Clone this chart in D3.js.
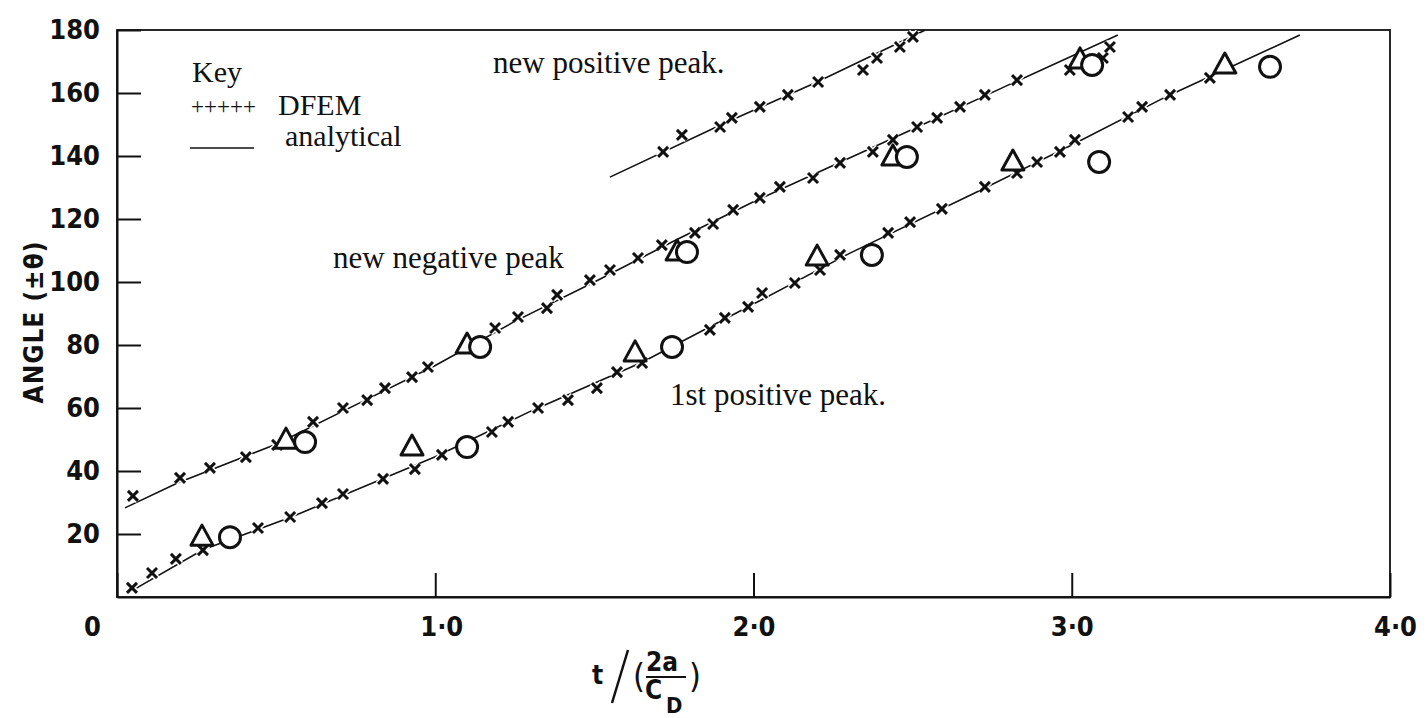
<!DOCTYPE html>
<html>
<head>
<meta charset="utf-8">
<script src="https://cdn.jsdelivr.net/npm/d3@7"></script>
<style>
body { margin: 0; background: #fff; }
svg { display: block; }
</style>
</head>
<body>
<svg id="chart" width="1426" height="718"></svg>
<script>
// tick values
var xTicks = [0, 1, 2, 3, 4];
var yTicks = [20, 40, 60, 80, 100, 120, 140, 160, 180];

// 1st positive peak  [t/(2a/C_D), angle]
var firstPosDFEM = [[0.047,2.9],[0.110,7.6],[0.185,12.1],[0.270,14.9],[0.443,21.9],[0.544,25.4],[0.644,29.8],[0.710,32.7],[0.836,37.5],[0.936,40.6],[1.021,45.1],[1.178,52.4],[1.229,55.6],[1.323,60.0],[1.417,62.5],[1.508,66.3],[1.571,71.4],[1.650,74.3],[1.863,84.8],[1.910,88.6],[1.983,92.1],[2.027,96.5],[2.130,99.7],[2.209,103.8],[2.272,108.6],[2.423,115.6],[2.492,119.0],[2.592,123.2],[2.727,130.2],[2.828,134.6],[2.891,138.1],[2.963,141.3],[3.010,145.1],[3.177,152.4],[3.221,155.6],[3.309,159.4],[3.434,164.8]];
var firstPosTri = [[0.267,19.0],[0.927,47.6],[1.628,77.5],[2.200,107.9],[2.815,138.1],[3.481,168.9]];
var firstPosCirc = [[0.355,19.0],[1.100,47.6],[1.744,79.4],[2.372,108.6],[3.086,138.1],[3.623,168.3]];
var firstPosLine = [[0.035,1.3],[0.27,15],[0.55,25.5],[1.0,44.5],[1.3,59],[1.65,74.5],[2.0,93],[2.3,109],[2.7,128.5],[3.0,143.5],[3.3,159],[3.717,178.4]];

// new negative peak
var newNegDFEM = [[0.050,32.1],[0.198,37.8],[0.292,41.0],[0.405,44.4],[0.503,48.3],[0.616,55.6],[0.710,60.0],[0.786,62.5],[0.842,66.3],[0.927,69.8],[0.977,73.0],[1.188,85.4],[1.260,88.9],[1.351,91.7],[1.383,95.9],[1.486,100.6],[1.549,103.8],[1.637,107.6],[1.712,111.7],[1.816,115.6],[1.873,118.4],[1.936,122.9],[2.020,126.7],[2.083,130.2],[2.187,133.0],[2.272,137.8],[2.375,141.3],[2.438,145.1],[2.514,149.2],[2.577,152.1],[2.649,155.6],[2.727,159.4],[2.828,164.1],[2.994,167.3],[3.098,171.1],[3.120,174.6]];
var newNegTri = [[0.531,49.8],[1.100,80.0],[1.760,109.5],[2.438,139.7],[3.026,170.5]];
var newNegCirc = [[0.591,49.2],[1.141,79.4],[1.791,109.5],[2.482,139.7],[3.064,168.9]];
var newNegLine = [[0.025,28.3],[0.19,36.2],[0.5,48.5],[0.75,61],[1.0,73.5],[1.25,87.5],[1.5,100],[1.75,113],[2.0,125.5],[2.25,137],[2.5,148.5],[2.8,162.5],[3.145,178.4]];

// new positive peak
var newPosDFEM = [[1.716,141.3],[1.775,146.7],[1.895,149.2],[1.932,152.1],[2.020,155.6],[2.108,159.4],[2.203,163.5],[2.344,167.3],[2.388,171.1],[2.460,174.6],[2.501,177.8]];
var newPosLine = [[1.549,133.3],[1.9,150],[2.2,163.5],[2.54,180]];

var svg = d3.select('#chart');
var x = d3.scaleLinear().domain([0, 4]).range([117, 1390]);
var y = d3.scaleLinear().domain([0, 180]).range([597, 30]);
var tickFont = '"DejaVu Sans Condensed", "DejaVu Sans", sans-serif';
var serif = '"Liberation Serif", "DejaVu Serif", serif';

// frame
svg.append('rect')
    .attr('x', x(0)).attr('y', y(180))
    .attr('width', x(4) - x(0)).attr('height', y(0) - y(180))
    .attr('fill', 'none').attr('stroke', '#111').attr('stroke-width', 1.8);

// axes
var gx = svg.append('g')
    .attr('transform', 'translate(0,' + y(0) + ')')
    .call(d3.axisBottom(x).tickValues(xTicks).tickSize(-24).tickSizeOuter(0).tickPadding(20)
        .tickFormat(function (d) { return d === 0 ? '0' : d.toFixed(1).replace('.', '\u00b7'); }));
var gy = svg.append('g')
    .attr('transform', 'translate(' + x(0) + ',0)')
    .call(d3.axisLeft(y).tickValues(yTicks).tickSize(-24).tickSizeOuter(0).tickPadding(17));
[gx, gy].forEach(function (g) {
    g.attr('font-family', tickFont).attr('font-size', 27).attr('font-weight', 'bold');
    g.selectAll('path, line').attr('stroke', '#111').attr('stroke-width', 2);
    g.selectAll('text').attr('fill', '#111');
});
gx.selectAll('.tick text').attr('dx', function (d) { return d === 0 ? -25 : (d === 4 ? 5 : (d === 1 ? 6 : 0)); });

// analytical lines
var line = d3.line().x(function (d) { return x(d[0]); }).y(function (d) { return y(d[1]); });
svg.append('clipPath').attr('id', 'clip').append('rect')
    .attr('x', x(0)).attr('y', y(180)).attr('width', x(4) - x(0)).attr('height', y(0) - y(180));
[firstPosLine, newNegLine, newPosLine].forEach(function (l) {
    svg.append('path').datum(l).attr('d', line).attr('clip-path', 'url(#clip)')
        .attr('fill', 'none').attr('stroke', '#111').attr('stroke-width', 1.6);
});

// DFEM crosses (white halo breaks the line like the print)
var crossPath = 'M-5,-5L5,5M-5,5L5,-5';
var crosses = firstPosDFEM.concat(newNegDFEM, newPosDFEM);
svg.append('g').selectAll('path').data(crosses).join('path')
    .attr('transform', function (d) { return 'translate(' + x(d[0]) + ',' + y(d[1]) + ')'; })
    .attr('d', crossPath).attr('stroke', '#fff').attr('stroke-width', 6);
svg.append('g').selectAll('path').data(crosses).join('path')
    .attr('transform', function (d) { return 'translate(' + x(d[0]) + ',' + y(d[1]) + ')'; })
    .attr('d', crossPath).attr('stroke', '#111').attr('stroke-width', 3);

// triangles and circles
svg.append('g').selectAll('path').data(firstPosTri.concat(newNegTri)).join('path')
    .attr('transform', function (d) { return 'translate(' + x(d[0]) + ',' + y(d[1]) + ')'; })
    .attr('d', 'M0,-12L11,8L-11,8Z')
    .attr('fill', '#fff').attr('stroke', '#111').attr('stroke-width', 3).attr('stroke-linejoin', 'round');
svg.append('g').selectAll('circle').data(firstPosCirc.concat(newNegCirc)).join('circle')
    .attr('cx', function (d) { return x(d[0]); }).attr('cy', function (d) { return y(d[1]); })
    .attr('r', 10.5)
    .attr('fill', '#fff').attr('stroke', '#111').attr('stroke-width', 3);

// curve labels
var notes = svg.append('g').attr('font-family', serif).attr('font-size', 31).attr('fill', '#111');
notes.append('text').attr('x', 493).attr('y', 73).text('new positive peak.');
notes.append('text').attr('x', 333).attr('y', 268).text('new negative peak');
notes.append('text').attr('x', 670).attr('y', 405).text('1st positive peak.');

// key
var key = svg.append('g').attr('font-family', serif).attr('fill', '#111');
key.append('text').attr('x', 192).attr('y', 82).attr('font-size', 30).text('Key');
key.append('text').attr('x', 191).attr('y', 114).attr('font-size', 23).text('+++++');
key.append('text').attr('x', 278).attr('y', 115).attr('font-size', 30).text('DFEM');
key.append('text').attr('x', 285).attr('y', 146).attr('font-size', 30).text('analytical');
key.append('line').attr('x1', 190).attr('x2', 254).attr('y1', 148).attr('y2', 148)
    .attr('stroke', '#111').attr('stroke-width', 1.5);

// y label
svg.append('text')
    .attr('transform', 'translate(43,322) rotate(-90)')
    .attr('text-anchor', 'middle')
    .attr('font-family', tickFont).attr('font-size', 26).attr('font-weight', 'bold')
    .attr('letter-spacing', 1).attr('fill', '#111')
    .text('ANGLE (\u00b1\u03b8)');

// x label  t/(2a/C_D)
var xl = svg.append('g').attr('font-family', tickFont).attr('font-size', 26).attr('font-weight', 'bold').attr('fill', '#111');
xl.append('text').attr('x', 592).attr('y', 684).text('t');
xl.append('line').attr('x1', 612).attr('y1', 703).attr('x2', 628).attr('y2', 650)
    .attr('stroke', '#111').attr('stroke-width', 2.5);
xl.append('text').attr('x', 633).attr('y', 688).attr('font-size', 34).attr('font-weight', 'normal').text('(');
xl.append('text').attr('x', 646).attr('y', 671).text('2a');
xl.append('line').attr('x1', 646).attr('x2', 686).attr('y1', 677).attr('y2', 677)
    .attr('stroke', '#111').attr('stroke-width', 2.2);
xl.append('text').attr('x', 645).attr('y', 699).text('C');
xl.append('text').attr('x', 689).attr('y', 688).attr('font-size', 34).attr('font-weight', 'normal').text(')');
xl.append('text').attr('x', 666).attr('y', 713).attr('font-size', 22).text('D');
</script>
</body>
</html>
